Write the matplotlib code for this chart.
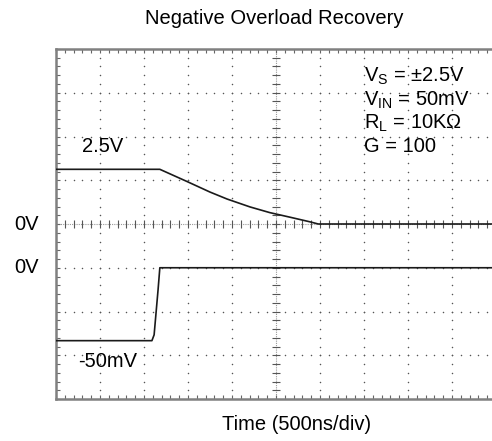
import numpy as np
import matplotlib
matplotlib.use("Agg")
import matplotlib.pyplot as plt

plt.rcParams["font.family"] = ["Liberation Sans", "DejaVu Sans"]
plt.rcParams["mathtext.fontset"] = "custom"
plt.rcParams["mathtext.rm"] = "Liberation Sans"
plt.rcParams["mathtext.it"] = "Liberation Sans"

# output trace (V), 2 V/div, zero on centre line
t_out_ns = [0, 1180, 1490, 1750, 1945, 2205, 2430, 2660, 2885, 2980, 5000]
v_out = [2.5, 2.5, 1.94, 1.46, 1.14, 0.78, 0.52, 0.31, 0.10, 0.0, 0.0]

# input trace (mV), 30 mV/div, zero one division below centre
t_in_ns = [0, 1090, 1115, 1160, 1180, 5000]
v_in_mv = [-50, -50, -46, -15, 0, 0]

ns_per_div = 500
out_v_per_div = 2.0
in_mv_per_div = 30.0
in_offset_div = -1.0

notes = [r"V$_\mathrm{S}$ = ±2.5V", r"V$_\mathrm{IN}$ = 50mV",
         r"R$_\mathrm{L}$ = 10KΩ", "G = 100"]

W, H = 492, 441
fig = plt.figure(figsize=(W / 100, H / 100), dpi=100)
ax = fig.add_axes([56 / W, (H - 399) / H, 440 / W, 350 / H])
ax.set_xlim(0, 10)
ax.set_ylim(-4, 4)

# graticule
minor_x = np.arange(0, 10.001, 0.2)
minor_y = np.arange(-4, 4.001, 0.2)
dot = "#555555"
for gx in range(1, 10):
    if gx == 5:
        continue
    ax.scatter(np.full_like(minor_y, gx), minor_y, s=1.2, color=dot, lw=0, zorder=1)
for gy in range(-3, 4):
    if gy == 0:
        continue
    ax.scatter(minor_x, np.full_like(minor_x, gy), s=1.2, color=dot, lw=0, zorder=1)

# centre cross with ticks
ax.axvline(5, color="#999999", lw=0.8, ls=(0, (1, 1)), zorder=1)
ax.axhline(0, color="#999999", lw=0.8, ls=(0, (1, 1)), zorder=1)
ax.plot(np.full_like(minor_y, 5), minor_y, ls="none", marker="_", ms=6,
        mew=0.8, color="#555555", zorder=1)
ax.plot(minor_x, np.zeros_like(minor_x), ls="none", marker="|", ms=6,
        mew=0.8, color="#555555", zorder=1)

# edges
ax.set_xticks(minor_x)
ax.set_yticks(minor_y)
ax.tick_params(which="both", direction="in", length=3, width=0.8,
               color="#666666", top=True, right=True,
               labelbottom=False, labelleft=False)
for side in ["top", "bottom", "left", "right"]:
    ax.spines[side].set_color("#808080")
    ax.spines[side].set_linewidth(1.8)

# traces
x_out = np.array(t_out_ns) / ns_per_div
y_out = np.array(v_out) / out_v_per_div
x_in = np.array(t_in_ns) / ns_per_div
y_in = np.array(v_in_mv) / in_mv_per_div + in_offset_div
ax.plot(x_out, y_out, color="#1a1a1a", lw=1.2, zorder=3)
ax.plot(x_in, y_in, color="#1a1a1a", lw=1.2, zorder=3)

fs = 14.5
ax.text(-0.4, 0, "0V", ha="right", va="center", fontsize=fs)
ax.text(-0.4, in_offset_div, "0V", ha="right", va="center", fontsize=fs)
ax.text(0.6, 1.78, "2.5V", ha="left", va="center", fontsize=fs)
ax.text(0.5, -3.15, "-50mV", ha="left", va="center", fontsize=fs)

for i, s in enumerate(notes):
    fig.text(364 / W, 1 - (82 + 23.3 * i) / H, s, ha="left", va="baseline",
             fontsize=fs)

fig.text(274 / W, 1 - 19 / H, "Negative Overload Recovery", ha="center",
         va="center", fontsize=fs)
fig.text(297 / W, 1 - 425 / H, "Time (500ns/div)", ha="center",
         va="center", fontsize=fs)

fig.savefig("out.png", dpi=100)
